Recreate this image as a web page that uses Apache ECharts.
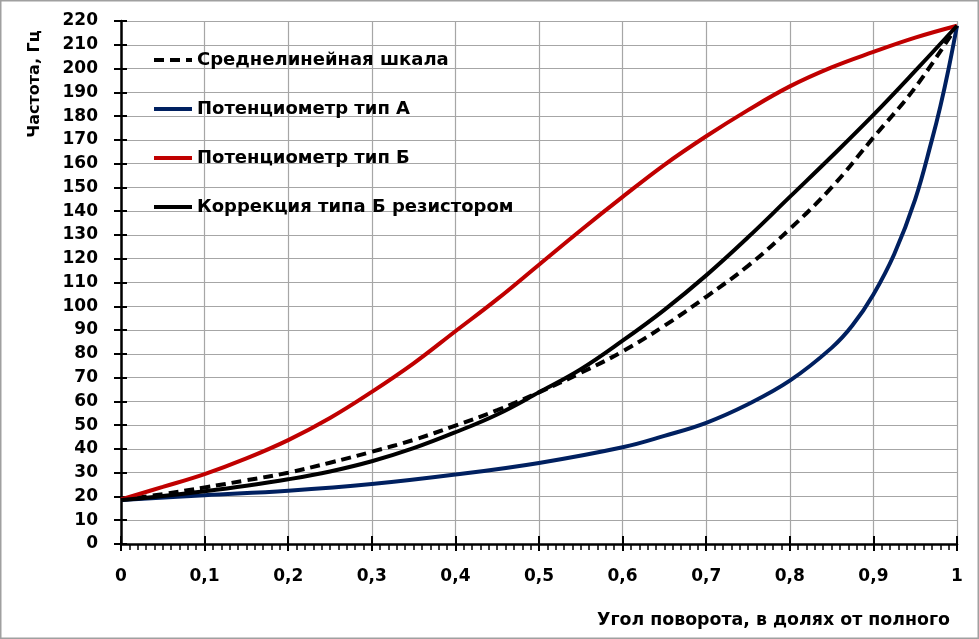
<!DOCTYPE html>
<html>
<head>
<meta charset="utf-8">
<script src="https://cdn.jsdelivr.net/npm/echarts@6/dist/echarts.min.js"></script>
<style>
html,body{margin:0;padding:0;background:#fff;}
#c{width:979px;height:639px;}
</style>
</head>
<body>
<div id="c"></div>
<script>
// ---- data ----
var seriesNames = ['Среднелинейная шкала', 'Потенциометр тип А', 'Потенциометр тип Б', 'Коррекция типа Б резистором'];
var xBase = [0, 0.05, 0.1, 0.15, 0.2, 0.25, 0.3, 0.35, 0.4, 0.45, 0.5, 0.55, 0.6, 0.65, 0.7, 0.75, 0.8, 0.85, 0.9, 0.95, 1.0];
var midLinearY = [18.5, 21, 23.8, 26.8, 30, 34.2, 38.8, 43.8, 49.8, 56.3, 63.8, 72, 81, 91.8, 104, 117, 132.5, 150, 171, 192, 218];
var typeBY = [18.8, 24, 29.4, 36, 43.7, 53, 64, 76, 89.5, 103, 117.5, 132, 146, 159.5, 171.5, 182.5, 192.5, 200.5, 207, 213, 218];
var correctionY = [18.5, 20.2, 22.2, 24.5, 27.2, 30.5, 34.8, 40.3, 47, 54.5, 63.8, 73.5, 85.5, 98.5, 113, 129, 146, 163, 180.5, 199, 218];
var typeAX = [0, 0.1, 0.2, 0.3, 0.4, 0.5, 0.6, 0.65, 0.7, 0.75, 0.8, 0.85, 0.875, 0.9, 0.925, 0.95, 0.97, 0.98, 0.99, 1.0];
var typeAY = [18.5, 20.5, 22.4, 25.2, 29.2, 34.1, 40.7, 45.5, 51, 58.8, 68.7, 82.5, 92, 105, 122, 145, 170, 184, 200, 218];
var yTicks = {min: 0, max: 220, step: 10};
var xTicks = {min: 0, max: 1, step: 0.1};

function pairs(xs, ys) { return xs.map(function (x, i) { return [x, ys[i]]; }); }

var FONT = 'DejaVu Sans';
var chart = echarts.init(document.getElementById('c'), null, {renderer: 'canvas'});
function mk(name, data, color, dash) {
  return {
    type: 'line', smooth: 0.4, symbol: 'none', showSymbol: false,
    name: name, data: data,
    lineStyle: {color: color, width: 4, type: dash || 'solid'},
    itemStyle: {color: color}
  };
}
var option = {
  animation: false,
  backgroundColor: '#fff',
  grid: {left: 121, right: 22, top: 21, bottom: 95, containLabel: false},
  legend: {
    orient: 'vertical', left: 147, top: 46,
    itemWidth: 38, itemHeight: 14, itemGap: 31,
    itemStyle: {opacity: 0},
    lineStyle: {width: 4},
    textStyle: {fontFamily: FONT, fontWeight: 'bold', fontSize: 18, color: '#000'},
    data: seriesNames
  },
  xAxis: [{
    type: 'value', min: xTicks.min, max: xTicks.max, interval: xTicks.step,
    axisLine: {show: true, onZero: false, lineStyle: {color: '#000', width: 2.5}},
    axisTick: {show: true, length: 7, lineStyle: {color: '#000', width: 2}},
    minorTick: {show: true, splitNumber: 10, length: 6, lineStyle: {color: '#000', width: 1.5}},
    axisLabel: {margin: 24, fontFamily: FONT, fontWeight: 'bold', fontSize: 17, color: '#000',
      formatter: function (v) { return String(Math.round(v * 10) / 10).replace('.', ','); }},
    splitLine: {show: true, lineStyle: {color: '#a6a6a6', width: 1.2}}
  }, {
    type: 'value', min: xTicks.min, max: xTicks.max, interval: xTicks.step, position: 'bottom',
    axisLine: {show: false},
    axisTick: {show: true, inside: true, length: 8, lineStyle: {color: '#000', width: 2}},
    axisLabel: {show: false}, splitLine: {show: false}
  }],
  yAxis: [{
    type: 'value', min: yTicks.min, max: yTicks.max, interval: yTicks.step,
    axisLine: {show: true, lineStyle: {color: '#000', width: 2.5}},
    axisTick: {show: true, length: 7, lineStyle: {color: '#000', width: 2}},
    axisLabel: {margin: 23, fontFamily: FONT, fontWeight: 'bold', fontSize: 17, color: '#000'},
    splitLine: {show: true, lineStyle: {color: '#a6a6a6', width: 1.2}}
  }, {
    type: 'value', min: yTicks.min, max: yTicks.max, interval: yTicks.step, position: 'left',
    axisLine: {show: false},
    axisTick: {show: true, inside: true, length: 6, lineStyle: {color: '#000', width: 2}},
    axisLabel: {show: false}, splitLine: {show: false}
  }],
  graphic: [
    {type: 'rect', shape: {x: 0.75, y: 0.75, width: 977.5, height: 637.5}, style: {fill: 'none', stroke: '#a0a0a0', lineWidth: 1.5}, silent: true},
    {type: 'text', x: 35, y: 84, rotation: Math.PI / 2,
      style: {text: 'Частота, Гц', fontFamily: FONT, fontWeight: 'bold', fontSize: 16, fill: '#000', align: 'center', verticalAlign: 'middle'}},
    {type: 'text', x: 950, y: 620,
      style: {text: 'Угол поворота, в долях от полного', fontFamily: FONT, fontWeight: 'bold', fontSize: 17.4, fill: '#000', align: 'right', verticalAlign: 'middle'}}
  ],
  series: [
    mk(seriesNames[0], pairs(xBase, midLinearY), '#000', [10, 6]),
    mk(seriesNames[1], pairs(typeAX, typeAY), '#002060'),
    mk(seriesNames[2], pairs(xBase, typeBY), '#c00000'),
    mk(seriesNames[3], pairs(xBase, correctionY), '#000')
  ]
};
chart.setOption(option);
</script>
</body>
</html>
